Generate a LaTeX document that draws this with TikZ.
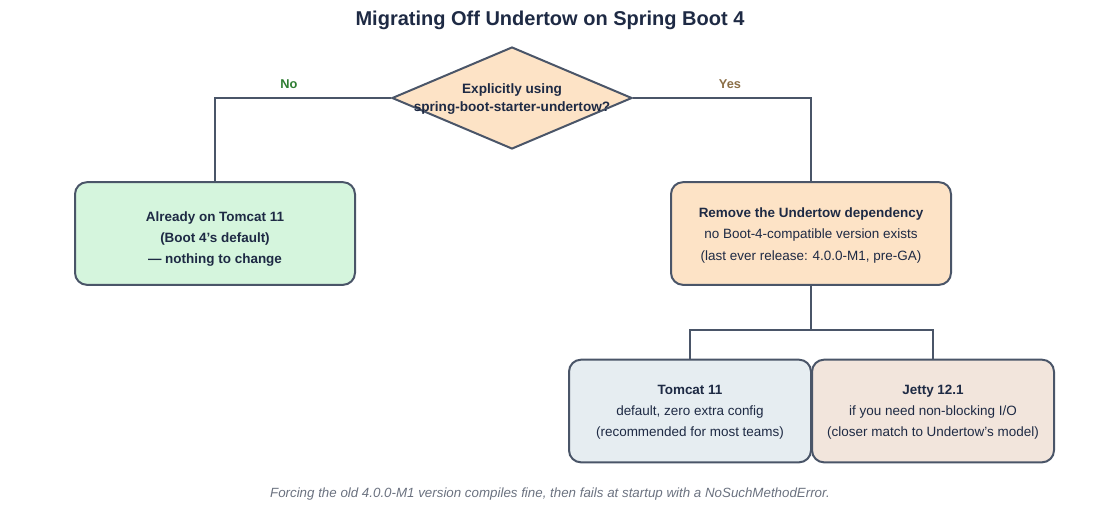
\documentclass[tikz,border=0pt]{standalone}
\usepackage{fontspec}
\setmainfont{Liberation Sans}
\usetikzlibrary{shapes.geometric}
\definecolor{ink}{HTML}{1E2A44}
\definecolor{edge}{HTML}{4A5568}
\definecolor{greenfill}{HTML}{D5F5DD}
\definecolor{peach}{HTML}{FDE3C6}
\definecolor{bluefill}{HTML}{E6EDF1}
\definecolor{beige}{HTML}{F2E5DC}
\definecolor{nogreen}{HTML}{2E7D32}
\definecolor{yesbrown}{HTML}{8B6F47}
\definecolor{footgray}{HTML}{6B7280}
\tikzset{
  px/.style={x=0.75pt,y=-0.75pt},
  box/.style={draw=edge, line width=1.5pt, rounded corners=9pt, minimum width=210pt, minimum height=77pt, inner sep=0pt},
  smallbox/.style={box, minimum width=181.5pt},
  boxtext/.style={align=center, text=ink, font=\fontsize{10.1}{15.8}\selectfont, inner sep=0pt},
  decision/.style={diamond, draw=edge, line width=1.5pt, fill=peach, minimum width=180pt, minimum height=76.5pt, inner sep=0pt},
  conn/.style={draw=edge, line width=1.9pt},
  branchlabel/.style={font=\fontsize{9.6}{11}\selectfont\bfseries, inner sep=1pt}
}
\begin{document}
\begin{tikzpicture}[px]
\useasboundingbox (0,0) rectangle (1100,522);
\node[font=\fontsize{15}{18}\selectfont\bfseries, text=ink] (title) at (550,20) {Migrating Off Undertow on Spring Boot 4};
\node[decision] (d) at (512,98) {};
\node[align=center, text=ink, font=\fontsize{10.2}{13.5}\selectfont\bfseries] (dtext) at (512,99) {Explicitly using\\spring-boot-starter-undertow?};
\node[box, fill=greenfill] (g) at (215,233.5) {};
\node[boxtext] (gtext) at (215,239) {\textbf{Already on Tomcat 11}\\\textbf{(Boot 4's default)}\\\textbf{— nothing to change}};
\node[box, fill=peach] (o) at (811,233.5) {};
\node[boxtext] (otext) at (811,235.5) {\textbf{Remove the Undertow dependency}\\no Boot-4-compatible version exists\\(last ever release: 4.0.0-M1, pre-GA)};
\node[smallbox, fill=bluefill] (t) at (690,411) {};
\node[boxtext] (ttext) at (690,412.5) {\textbf{Tomcat 11}\\default, zero extra config\\(recommended for most teams)};
\node[smallbox, fill=beige] (j) at (933,411) {};
\node[boxtext] (jtext) at (933,412.5) {\textbf{Jetty 12.1}\\if you need non-blocking I/O\\(closer match to Undertow's model)};
\draw[conn] (d.west) -| (g.north);
\draw[conn] (d.east) -| (o.north);
\node[branchlabel, text=nogreen] (no) at (289,84) {No};
\node[branchlabel, text=yesbrown] (yes) at (730,84) {Yes};
\coordinate (split) at (811,330);
\draw[conn] (o.south) -- (split);
\draw[conn] (split) -| (t.north);
\draw[conn] (split) -| (j.north);
\node[font=\fontsize{10}{12}\selectfont\itshape, text=footgray] (foot) at (550,494) {Forcing the old 4.0.0-M1 version compiles fine, then fails at startup with a NoSuchMethodError.};
\end{tikzpicture}
\end{document}
